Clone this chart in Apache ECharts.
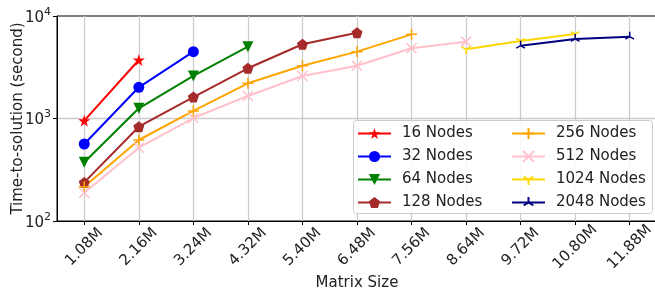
<!DOCTYPE html>
<html>
<head>
<meta charset="utf-8">
<script src="https://cdn.jsdelivr.net/npm/echarts@6/dist/echarts.min.js"></script>
<style>
html, body { margin: 0; padding: 0; background: #fff; }
#main { width: 655px; height: 290px; }
</style>
</head>
<body>
<div id="main"></div>
<script>
// 数据
var categories = ['1.08M', '2.16M', '3.24M', '4.32M', '5.40M', '6.48M', '7.56M', '8.64M', '9.72M', '10.80M', '11.88M']
var yTicks = [100, 1000, 10000]
var nodes16 = [953, 3725, null, null, null, null, null, null, null, null, null]
var nodes32 = [564, 2015, 4485, null, null, null, null, null, null, null, null]
var nodes64 = [374, 1258, 2600, 5020, null, null, null, null, null, null, null]
var nodes128 = [238, 832, 1620, 3090, 5300, 6870, null, null, null, null, null]
var nodes256 = [216, 617, 1184, 2205, 3274, 4490, 6625, null, null, null, null]
var nodes512 = [189, 519, 1011, 1660, 2600, 3274, 4840, 5620, null, null, null]
var nodes1024 = [null, null, null, null, null, null, null, 4730, 5700, 6670, null]
var nodes2048 = [null, null, null, null, null, null, null, null, 5130, 5970, 6280]

var FONT = 'DejaVu Sans'

// 标记形状
var STAR = 'path://M50,0L61,35L98,35L68,57L79,91L50,70L21,91L32,57L2,35L39,35Z'
var PENTAGON = 'path://M50,0L98,35L79,91L21,91L2,35Z'
var PLUS = 'path://M5,0L5,10M0,5L10,5'
var CROSS = 'path://M0,0L10,10M10,0L0,10'
var TRI_DOWN = 'path://M0,0M10,10M5,5L5,10M5,5L0.67,2.5M5,5L9.33,2.5'
var TRI_UP = 'path://M0,0M10,10M5,5L5,0M5,5L0.67,7.5M5,5L9.33,7.5'

function makeSeries(name, data, color, symbol, size, stroked, rotate) {
  return {
    name: name,
    type: 'line',
    data: data,
    symbol: symbol,
    symbolSize: size,
    symbolRotate: rotate || 0,
    showAllSymbol: true,
    lineStyle: { color: color, width: 2 },
    itemStyle: stroked
      ? { color: 'rgba(0,0,0,0)', borderColor: color, borderWidth: 1.5 }
      : { color: color, borderWidth: 0 },
    emphasis: { disabled: true }
  }
}

var series = [
  makeSeries('16 Nodes', nodes16, '#ff0000', STAR, 12, false),
  makeSeries('32 Nodes', nodes32, '#0000ff', 'circle', 11, false),
  makeSeries('64 Nodes', nodes64, '#008000', 'triangle', 11, false, 180),
  makeSeries('128 Nodes', nodes128, '#a52a2a', PENTAGON, 11, false),
  makeSeries('256 Nodes', nodes256, '#ffa500', PLUS, 11, true),
  makeSeries('512 Nodes', nodes512, '#ffc0cb', CROSS, 10, true),
  makeSeries('1024 Nodes', nodes1024, '#ffd700', TRI_DOWN, 10, true),
  makeSeries('2048 Nodes', nodes2048, '#000080', TRI_UP, 10, true)
]

var legendBase = {
  orient: 'vertical',
  top: 126,
  itemWidth: 33,
  itemHeight: 14,
  itemGap: 8,
  padding: 0,
  textStyle: { fontFamily: FONT, fontSize: 15, color: '#222', padding: [0, 0, 0, 6] }
}

var chart = echarts.init(document.getElementById('main'), null, { renderer: 'canvas' })
var option = {
  animation: false,
  backgroundColor: '#fff',
  textStyle: { fontFamily: FONT },
  grid: {
    left: 57,
    top: 16,
    width: 600,
    height: 205,
    outerBoundsMode: 'none',
    containLabel: false,
    show: true,
    borderColor: '#000',
    borderWidth: 1
  },
  legend: [
    Object.assign({ left: 357, data: series.slice(0, 4).map(function (s) { return s.name }) }, legendBase),
    Object.assign({ left: 511, data: series.slice(4).map(function (s) { return s.name }) }, legendBase)
  ],
  graphic: [{
    type: 'rect',
    left: 353,
    top: 120,
    z: 3,
    shape: { width: 299, height: 93, r: 3 },
    style: { fill: 'rgba(255,255,255,0.85)', stroke: '#cccccc', lineWidth: 1 }
  }],
  xAxis: {
    type: 'category',
    data: categories,
    name: 'Matrix Size',
    nameLocation: 'middle',
    nameGap: 55,
    nameMoveOverlap: false,
    nameTextStyle: { fontFamily: FONT, fontSize: 15, color: '#222' },
    axisLine: { lineStyle: { color: '#000', width: 1 } },
    axisTick: { show: true, alignWithLabel: true, length: 4, lineStyle: { color: '#000' } },
    axisLabel: {
      rotate: 45,
      align: 'center',
      verticalAlign: 'middle',
      margin: 26,
      fontFamily: FONT,
      fontSize: 15,
      color: '#222'
    },
    splitLine: { show: true, alignWithLabel: true, lineStyle: { color: '#cccccc', width: 1.3 } }
  },
  yAxis: {
    type: 'log',
    logBase: 10,
    min: yTicks[0],
    max: yTicks[yTicks.length - 1],
    name: 'Time-to-solution (second)',
    nameLocation: 'middle',
    nameGap: 31,
    nameMoveOverlap: false,
    nameTextStyle: { fontFamily: FONT, fontSize: 15, color: '#222' },
    axisLine: { show: true, lineStyle: { color: '#000', width: 1 } },
    axisTick: { show: true, length: 4, lineStyle: { color: '#000' } },
    axisLabel: {
      margin: 6,
      fontFamily: FONT,
      color: '#222',
      formatter: function (v) {
        var e = Math.round(Math.log10(v))
        return '{b|10}{s|' + e + '}'
      },
      rich: {
        b: { fontFamily: FONT, fontSize: 15, color: '#222', verticalAlign: 'bottom' },
        s: { fontFamily: FONT, fontSize: 11, color: '#222', verticalAlign: 'bottom', padding: [0, 0, 8, 0] }
      }
    },
    splitLine: {
      show: true,
      showMinLine: false,
      showMaxLine: false,
      lineStyle: { color: '#cccccc', width: 1.3 }
    }
  },
  series: series
}
chart.setOption(option)
</script>
</body>
</html>
